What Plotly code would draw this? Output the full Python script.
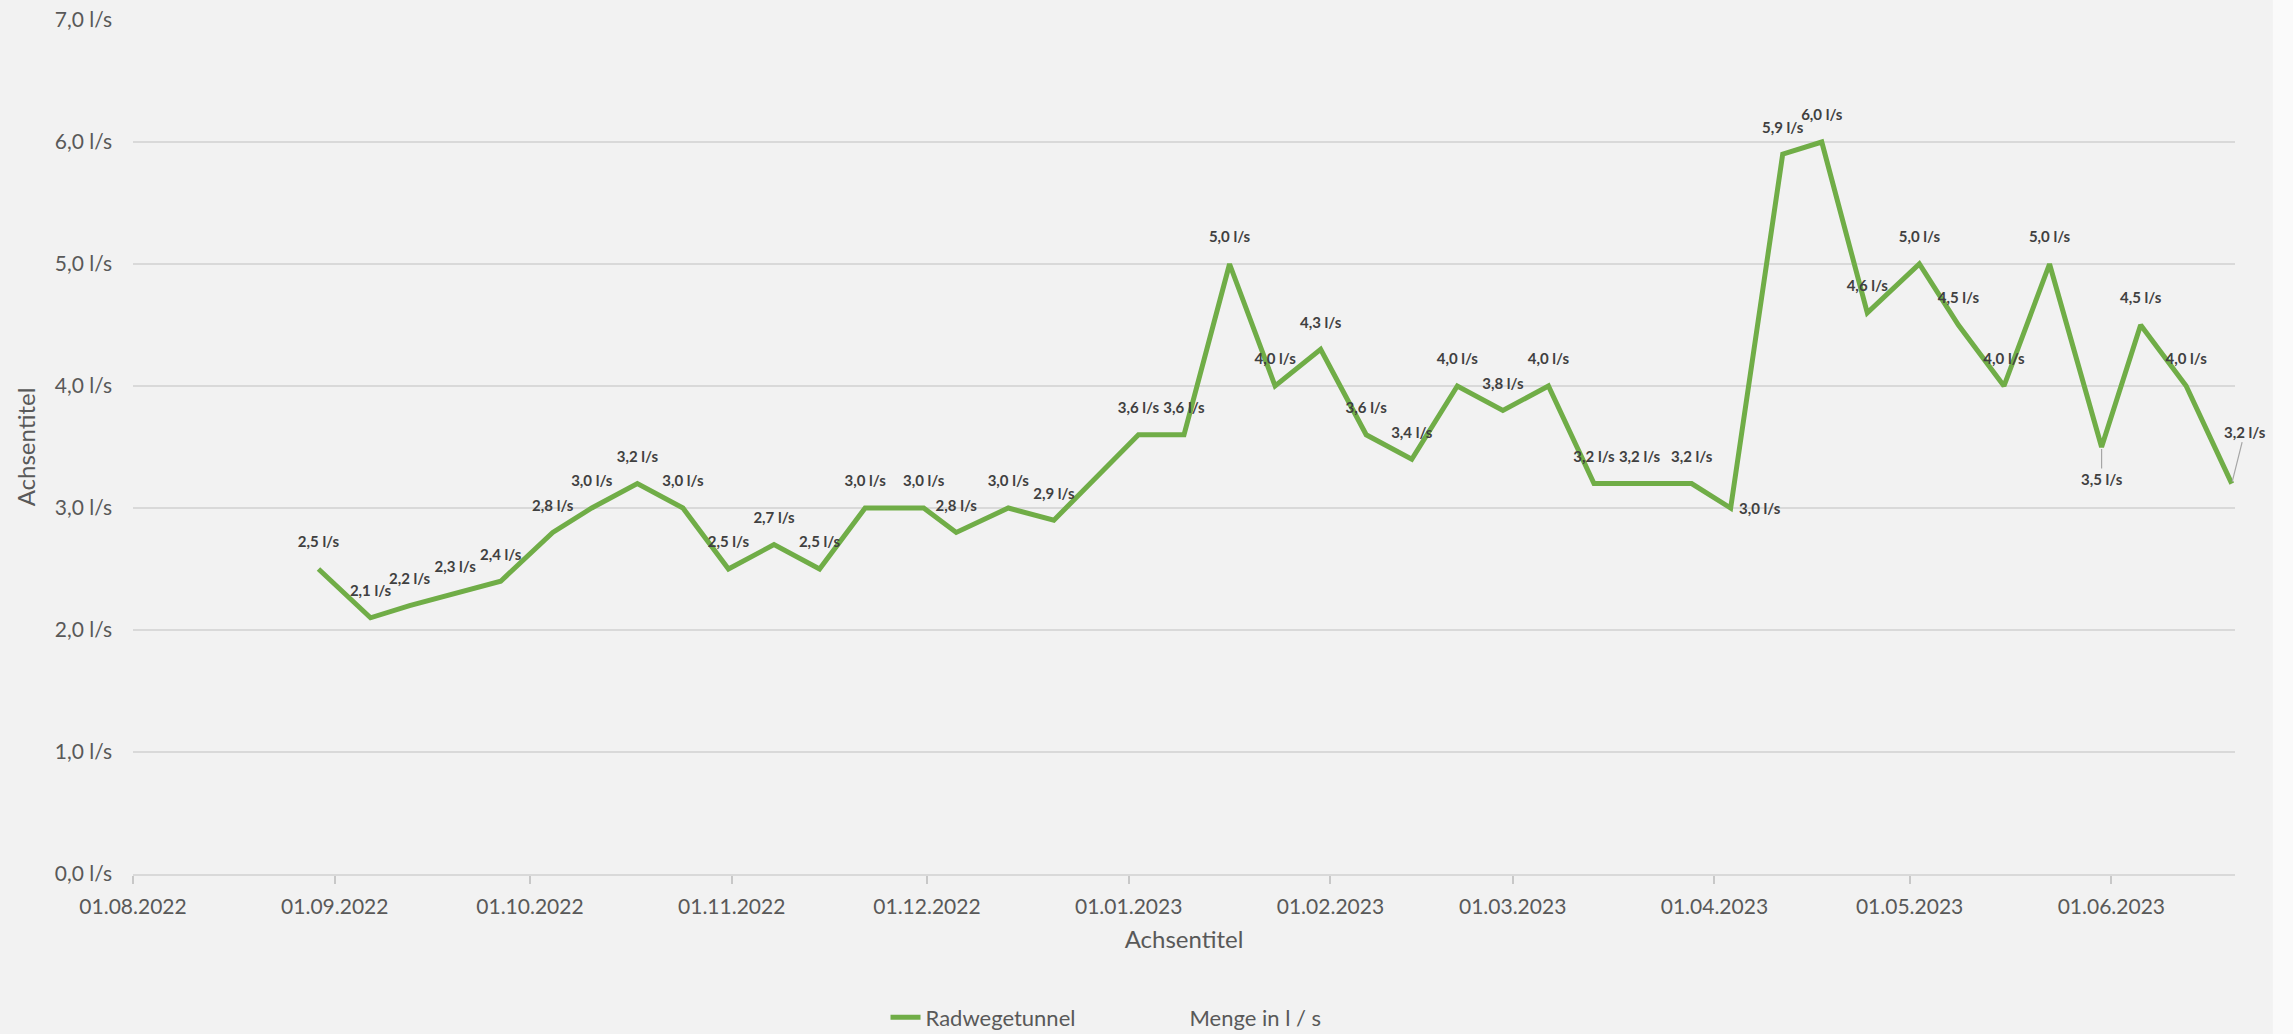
import plotly.graph_objects as go
import pandas as pd

# ---- data ----
dates = ["2022-08-29", "2022-09-06", "2022-09-12", "2022-09-19", "2022-09-26",
         "2022-10-04", "2022-10-10", "2022-10-17", "2022-10-24", "2022-10-31",
         "2022-11-07", "2022-11-14", "2022-11-21", "2022-11-30", "2022-12-05",
         "2022-12-13", "2022-12-20", "2023-01-02", "2023-01-09", "2023-01-16",
         "2023-01-23", "2023-01-30", "2023-02-06", "2023-02-13", "2023-02-20",
         "2023-02-27", "2023-03-06", "2023-03-13", "2023-03-20", "2023-03-28",
         "2023-04-03", "2023-04-11", "2023-04-17", "2023-04-24", "2023-05-02",
         "2023-05-08", "2023-05-15", "2023-05-22", "2023-05-30", "2023-06-05",
         "2023-06-12", "2023-06-19"]
values = [2.5, 2.1, 2.2, 2.3, 2.4, 2.8, 3.0, 3.2, 3.0, 2.5,
          2.7, 2.5, 3.0, 3.0, 2.8, 3.0, 2.9, 3.6, 3.6, 5.0,
          4.0, 4.3, 3.6, 3.4, 4.0, 3.8, 4.0, 3.2, 3.2, 3.2,
          3.0, 5.9, 6.0, 4.6, 5.0, 4.5, 4.0, 5.0, 3.5, 4.5,
          4.0, 3.2]
series_name = "Radwegetunnel"
second_name = "Menge in l / s"
axis_title = "Achsentitel"
x_range = ["2022-08-01", "2023-06-20"]
y_range = [0, 7]

labels = [f"{v:.1f}".replace(".", ",") + " l/s" for v in values]
# labels placed separately (right of point / with leader lines)
right_label_idx = [30]
below_label_idx = [38]
leader_above_idx = [41]
special = set(right_label_idx + below_label_idx + leader_above_idx)

# Excel date axis puts each day's point in the middle of the day
x_vals = pd.to_datetime(dates) + pd.Timedelta(hours=12)

FONT = "Lato, 'Open Sans', sans-serif"
TXT = "#595959"
LBL = "#404040"
GREEN = "#70ad47"
GRID = "#d9d9d9"

point_text = ["" if i in special else t for i, t in enumerate(labels)]

fig = go.Figure()
fig.add_trace(go.Scatter(
    x=x_vals, y=values, name=series_name,
    mode="lines+markers+text",
    line=dict(color=GREEN, width=5),
    marker=dict(size=27, color="rgba(0,0,0,0)"),
    text=point_text, textposition="top center",
    textfont=dict(family=FONT, size=15, color=LBL, weight="bold"),
    hoverinfo="x+y",
))
fig.add_trace(go.Scatter(
    x=[None], y=[None], name=second_name, mode="lines",
    line=dict(color="rgba(0,0,0,0)", width=5),
))

ann_font = dict(family=FONT, size=15, color=LBL, weight="bold")
annotations = []
for i in right_label_idx:
    annotations.append(dict(x=x_vals[i], y=values[i], xref="x", yref="y",
                            text=labels[i], showarrow=False, xanchor="left",
                            xshift=6, font=ann_font))
for i in below_label_idx:
    annotations.append(dict(x=x_vals[i], y=values[i], xref="x", yref="y",
                            text=labels[i], showarrow=True, arrowhead=0,
                            arrowwidth=1.2, arrowcolor="#a6a6a6", ax=0, ay=32,
                            standoff=2, font=ann_font))
for i in leader_above_idx:
    annotations.append(dict(x=x_vals[i], y=values[i], xref="x", yref="y",
                            text=labels[i], showarrow=True, arrowhead=0,
                            arrowwidth=1.2, arrowcolor="#a6a6a6", ax=13, ay=-52,
                            standoff=2, font=ann_font))

fig.update_layout(
    width=2293, height=1034,
    margin=dict(l=133, r=58, t=20, b=160, autoexpand=False),
    paper_bgcolor="#f2f2f2", plot_bgcolor="#f2f2f2",
    separators=",.",
    font=dict(family=FONT, color=TXT),
    showlegend=True,
    legend=dict(orientation="h", x=0.358, xanchor="left",
                yref="container", y=0.016, yanchor="middle",
                font=dict(family=FONT, size=22, color=TXT),
                bgcolor="rgba(0,0,0,0)", entrywidth=219, entrywidthmode="pixels"),
    annotations=annotations,
    shapes=[dict(type="rect", xref="paper", yref="paper", x0=1.018, x1=1.04,
                 y0=-0.2, y1=1.05, fillcolor="#fafafa", line=dict(width=0),
                 layer="below")],
)
fig.update_xaxes(
    type="date", range=x_range, tick0="2022-08-01", dtick="M1",
    tickformat="%d.%m.%Y", ticks="outside", ticklen=8, tickwidth=1.5,
    tickcolor="#c8c8c8", showline=True, linecolor=GRID, linewidth=2,
    showgrid=False, zeroline=False, ticklabelstandoff=5, automargin=False,
    tickfont=dict(family=FONT, size=21, color=TXT),
    title=dict(text=axis_title, font=dict(family=FONT, size=24, color=TXT), standoff=14),
)
fig.update_yaxes(
    range=y_range, dtick=1, tickformat=".1f", ticksuffix=" l/s",
    showgrid=True, gridcolor=GRID, gridwidth=2, zeroline=False,
    ticks="", ticklabelstandoff=20, automargin=False,
    tickfont=dict(family=FONT, size=21, color=TXT),
    title=dict(text=axis_title, font=dict(family=FONT, size=24, color=TXT), standoff=12),
)

fig.write_html("out.html", config={"displayModeBar": False},
               post_script="document.body.style.margin='0';")
